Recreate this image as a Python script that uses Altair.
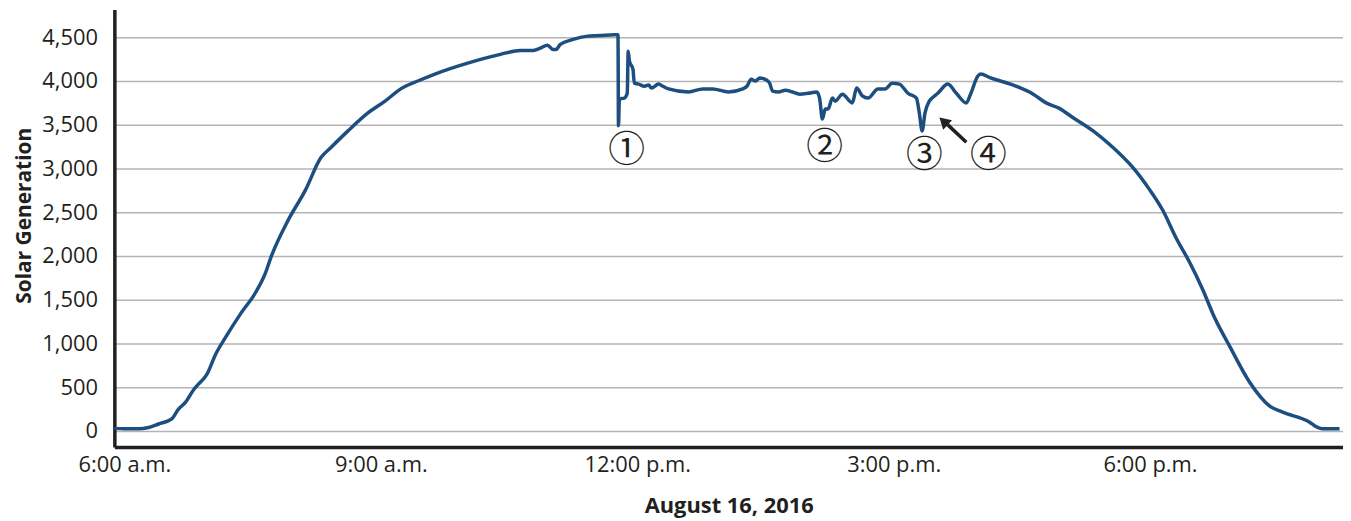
import altair as alt
import pandas as pd

# ---- data ----
times = [
    "5:53", "6:00", "6:10", "6:17", "6:24", "6:33", "6:38", "6:43", "6:49", "6:52",
    "6:58", "7:04", "7:11", "7:22", "7:32", "7:39", "7:43", "7:55", "8:07", "8:18",
    "8:25", "8:37", "8:51", "9:03", "9:14", "9:26", "9:38", "10:01", "10:24", "10:38",
    "10:47", "10:52", "10:57", "11:01", "11:03", "11:06", "11:15", "11:24", "11:34", "11:44",
    "11:46:30", "11:46:50", "11:47:30", "11:51", "11:53", "11:53:40", "11:54:30", "11:57", "11:58", "12:01",
    "12:05", "12:08", "12:10", "12:15", "12:18", "12:22", "12:36", "12:46", "12:53", "13:04",
    "13:14", "13:17", "13:20", "13:23", "13:26", "13:31", "13:33", "13:35", "13:39", "13:44",
    "13:49", "13:54", "14:00", "14:06", "14:08", "14:10", "14:12", "14:14", "14:17", "14:19",
    "14:24", "14:31", "14:34", "14:38", "14:42", "14:49", "14:54", "14:59", "15:04", "15:10",
    "15:16", "15:18", "15:20", "15:22", "15:25", "15:27", "15:31", "15:38", "15:44", "15:51",
    "15:54", "15:59", "16:01", "16:08", "16:22", "16:38", "16:47", "16:56", "17:06", "17:20",
    "17:34", "17:48", "18:00", "18:09", "18:18", "18:28", "18:37", "18:45", "18:56", "19:10",
    "19:24", "19:33", "19:52", "19:56", "20:01", "20:13",
]
values = [
    30, 25, 25, 40, 80, 135, 250, 330, 480, 535,
    650, 875, 1070, 1350, 1580, 1805, 1990, 2410, 2750, 3125,
    3240, 3430, 3635, 3770, 3910, 4000, 4080, 4205, 4305, 4350,
    4350, 4375, 4410, 4360, 4360, 4420, 4475, 4510, 4520, 4530,
    4530, 3490, 3795, 3805, 3860, 4340, 4230, 4135, 3975, 3965,
    3940, 3955, 3920, 3965, 3940, 3910, 3875, 3910, 3910, 3875,
    3910, 3940, 4020, 4000, 4035, 4010, 3975, 3885, 3875, 3895,
    3875, 3850, 3860, 3875, 3805, 3565, 3680, 3680, 3805, 3770,
    3850, 3750, 3920, 3830, 3805, 3910, 3910, 3975, 3965, 3860,
    3805, 3635, 3430, 3635, 3770, 3805, 3860, 3965, 3860, 3750,
    3850, 4055, 4080, 4035, 3965, 3850, 3750, 3690, 3580, 3430,
    3240, 3010, 2750, 2520, 2215, 1920, 1615, 1305, 965, 555,
    285, 215, 100, 55, 25, 25,
]

tick_hours = [6, 9, 12, 15, 18]
tick_labels = ["6:00 a.m.", "9:00 a.m.", "12:00 p.m.", "3:00 p.m.", "6:00 p.m."]
y_ticks = [0, 500, 1000, 1500, 2000, 2500, 3000, 3500, 4000, 4500]

ann_labels = ["\u2460", "\u2461", "\u2462", "\u2463"]
ann_times = ["11:52:30", "14:11:30", "15:21:30", "16:06:30"]
ann_values = [3200, 3237, 3147, 3147]

arrow_times = ["15:51", "15:36"]   # tail, end under the head
arrow_values = [3300, 3530]
arrowhead_time = ["15:35"]
arrowhead_value = [3540]

x_title = "August 16, 2016"
y_title = "Solar Generation"


def to_hours(t):
    parts = [int(p) for p in t.split(":")]
    while len(parts) < 3:
        parts.append(0)
    return parts[0] + parts[1] / 60.0 + parts[2] / 3600.0


df = pd.DataFrame({"hour": [to_hours(t) for t in times], "value": values})
df["idx"] = range(len(df))
ann = pd.DataFrame({"hour": [to_hours(t) for t in ann_times], "value": ann_values, "label": ann_labels})
arrow = pd.DataFrame({"hour": [to_hours(t) for t in arrow_times], "value": arrow_values})
arrow["idx"] = range(len(arrow))
head = pd.DataFrame({"hour": [to_hours(t) for t in arrowhead_time], "value": arrowhead_value})

label_expr = " : ".join(
    f"datum.value == {h} ? '{l}'" for h, l in zip(tick_hours, tick_labels)
) + " : ''"

FONT = "Open Sans"
INK = "#231f20"
x_scale = alt.Scale(domain=[5.883, 20.257], nice=False, zero=False)
y_scale = alt.Scale(domain=[-182, 4817], nice=False, zero=False)

x_enc = alt.X(
    "hour:Q",
    scale=x_scale,
    axis=alt.Axis(
        values=tick_hours, labelExpr=label_expr, title=x_title, grid=False,
        ticks=False, labelPadding=8, labelFontSize=22, labelFont=FONT,
        labelColor=INK, titleFont=FONT, titleFontSize=22, titleFontWeight="bold",
        titleColor=INK, titleBaseline="alphabetic", titleY=66,
        domainColor=INK, domainWidth=3.5, labelFlush=False,
    ),
)
y_enc = alt.Y(
    "value:Q",
    scale=y_scale,
    axis=alt.Axis(
        values=y_ticks, format=",d", title=y_title, grid=True, gridColor="#b4b4b4",
        gridWidth=1.5, ticks=False, labelPadding=17, labelFontSize=22, labelFont=FONT,
        labelColor=INK, titleFont=FONT, titleFontSize=21, titleFontWeight="bold",
        titleColor=INK, titlePadding=7, titleY=207,
        domainColor=INK, domainWidth=3.5,
    ),
)

line = alt.Chart(df).mark_line(
    color="#1d4e80", strokeWidth=3.5, strokeJoin="round", interpolate="monotone"
).encode(x=x_enc, y=y_enc, order="idx:Q")

labels = alt.Chart(ann).mark_text(
    font="Noto Sans CJK JP", fontSize=37, color=INK, baseline="middle", align="center"
).encode(x="hour:Q", y="value:Q", text="label:N")

arrow_line = alt.Chart(arrow).mark_line(color=INK, strokeWidth=3.5).encode(
    x="hour:Q", y="value:Q", order="idx:Q"
)
arrow_head = alt.Chart(head).mark_point(
    shape="triangle-up", filled=True, size=170, angle=313, color=INK, opacity=1
).encode(x="hour:Q", y="value:Q")

chart = (
    alt.layer(line, arrow_line, arrow_head, labels)
    .properties(
        width=1236,
        height=440,
        autosize=alt.AutoSizeParams(type="none"),
        padding={"left": 107, "top": 0, "right": 0, "bottom": 76},
    )
    .configure_view(stroke=None)
)

chart.save("out.html", embed_options={"renderer": "svg", "actions": False})
